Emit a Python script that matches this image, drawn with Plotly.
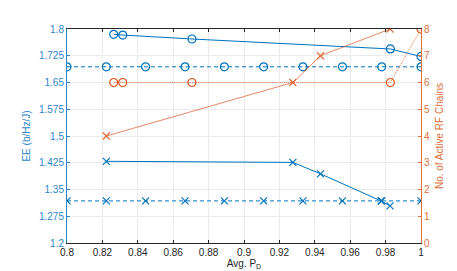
import plotly.graph_objects as go

# Data
pd_dashed = [0.8, 0.8222, 0.8444, 0.8667, 0.8889, 0.9111, 0.9333, 0.9556, 0.9778, 1.0]
ee_dashed_o = [1.694] * 10
ee_dashed_x = [1.318] * 10

pd_o = [0.8264, 0.8315, 0.8706, 0.9827, 1.0]
ee_o = [1.785, 1.783, 1.772, 1.744, 1.723]
rf_o = [6, 6, 6, 6, 8]

pd_x = [0.8222, 0.9276, 0.9432, 0.9774, 0.9825]
ee_x = [1.429, 1.426, 1.394, 1.318, 1.304]

pd_rfx = [0.8222, 0.9276, 0.9432, 0.9825]
rf_x = [4, 6, 7, 8]

x_ticks = [0.8, 0.82, 0.84, 0.86, 0.88, 0.9, 0.92, 0.94, 0.96, 0.98, 1.0]
x_ticklabels = ["0.8", "0.82", "0.84", "0.86", "0.88", "0.9", "0.92", "0.94", "0.96", "0.98", "1"]
y_ticks = [1.2, 1.275, 1.35, 1.425, 1.5, 1.575, 1.65, 1.725, 1.8]
y_ticklabels = ["1.2", "1.275", "1.35", "1.425", "1.5", "1.575", "1.65", "1.725", "1.8"]
y2_ticks = [0, 1, 2, 3, 4, 5, 6, 7, 8]

BLUE = "#0072BD"
ORANGE = "#D95319"
BLUE_AX = "#2f86c9"
ORANGE_AX = "#e0703c"

fig = go.Figure()

fig.add_trace(go.Scatter(x=pd_o, y=ee_o, mode="lines+markers",
                         line=dict(color=BLUE, width=1),
                         marker=dict(symbol="circle-open", size=8, color=BLUE, line=dict(width=1.2))))
fig.add_trace(go.Scatter(x=pd_dashed, y=ee_dashed_o, mode="lines+markers",
                         line=dict(color=BLUE, width=1, dash="4px,3px"),
                         marker=dict(symbol="circle-open", size=8, color=BLUE, line=dict(width=1.2))))
fig.add_trace(go.Scatter(x=pd_x, y=ee_x, mode="lines+markers",
                         line=dict(color=BLUE, width=1),
                         marker=dict(symbol="x-thin-open", size=7, color=BLUE, line=dict(width=1.2, color=BLUE))))
fig.add_trace(go.Scatter(x=pd_dashed, y=ee_dashed_x, mode="lines+markers",
                         line=dict(color=BLUE, width=1, dash="4px,3px"),
                         marker=dict(symbol="x-thin-open", size=7, color=BLUE, line=dict(width=1.2, color=BLUE))))

fig.add_trace(go.Scatter(x=pd_o, y=rf_o, mode="lines+markers", yaxis="y2",
                         line=dict(color=ORANGE, width=0.8, dash="1px,1px"),
                         marker=dict(symbol="circle-open", size=8, color=ORANGE, line=dict(width=1.2))))
fig.add_trace(go.Scatter(x=pd_rfx, y=rf_x, mode="lines+markers", yaxis="y2",
                         line=dict(color=ORANGE, width=0.8),
                         opacity=0.85,
                         marker=dict(symbol="x-thin-open", size=7, color=ORANGE, line=dict(width=1.2, color=ORANGE))))

font = "Liberation Sans, Arial, sans-serif"

fig.update_layout(
    width=457, height=271,
    margin=dict(l=59, r=44, t=21, b=32),
    paper_bgcolor="white", plot_bgcolor="white",
    showlegend=False,
    font=dict(family=font, size=10, color="#262626"),
    xaxis=dict(range=[0.8, 1.0], tickvals=x_ticks, ticktext=x_ticklabels,
               showgrid=True, gridcolor="#ebebeb", gridwidth=1,
               showline=True, linecolor="#262626", linewidth=1, mirror="ticks",
               ticks="inside", ticklen=3, tickcolor="#262626",
               tickfont=dict(size=10, color="#262626"),
               title=dict(text="Avg. P<sub>D</sub>", font=dict(size=10, color="#262626"), standoff=2),
               zeroline=False),
    yaxis=dict(range=[1.2, 1.8], tickvals=y_ticks, ticktext=y_ticklabels,
               showgrid=True, gridcolor="#ebebeb", gridwidth=1,
               showline=True, linecolor=BLUE_AX, linewidth=1,
               ticks="inside", ticklen=3, tickcolor=BLUE_AX,
               tickfont=dict(size=10, color=BLUE_AX),
               title=dict(text="EE (b/Hz/J)", font=dict(size=10, color=BLUE_AX), standoff=6),
               zeroline=False),
    yaxis2=dict(range=[0, 8], tickvals=y2_ticks, overlaying="y", side="right",
                showgrid=False, showline=True, linecolor=ORANGE_AX, linewidth=1,
                ticks="inside", ticklen=3, tickcolor=ORANGE_AX,
                tickfont=dict(size=10, color=ORANGE_AX),
                title=dict(text="No. of Active RF Chains", font=dict(size=10, color=ORANGE_AX), standoff=6),
                zeroline=False),
)

fig.write_html("out.html")
